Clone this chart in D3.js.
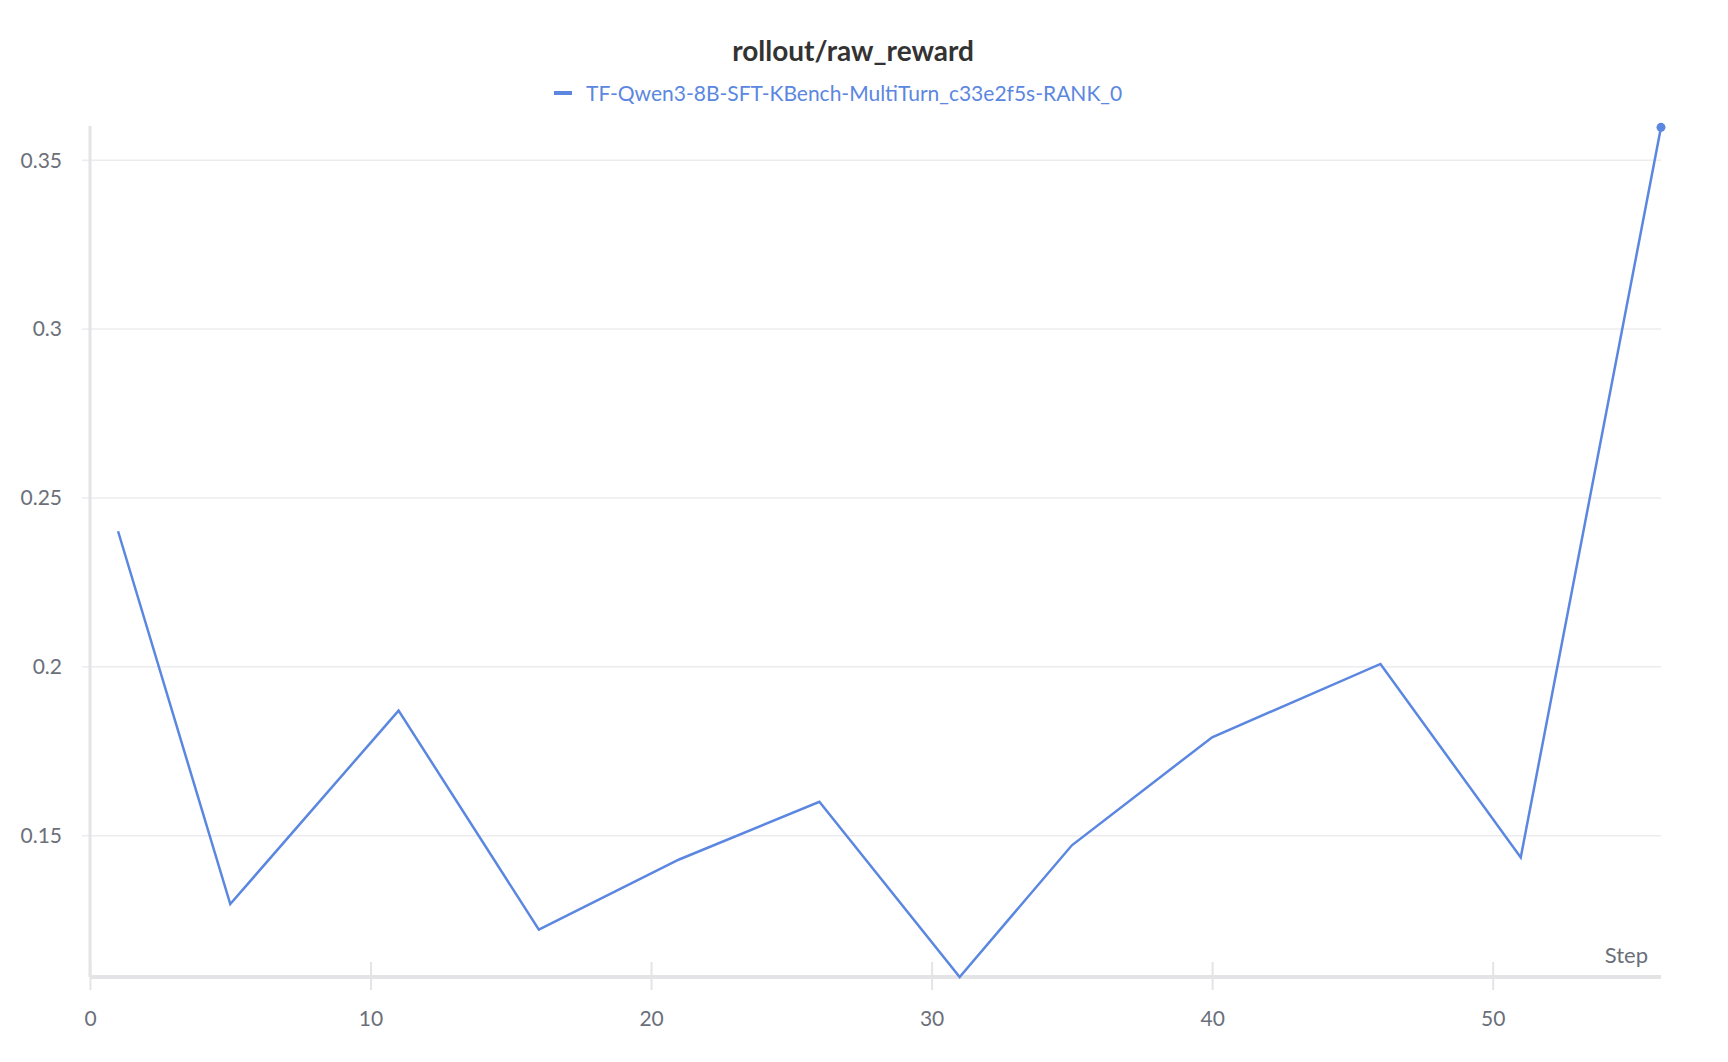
<!DOCTYPE html>
<meta charset="utf-8">
<style>
body { margin: 0; background: #fff; }
text { font-family: "Source Sans Pro", Lato, "Noto Sans", sans-serif; }
.grid line { stroke: #ececef; stroke-width: 1.5px; }
.tick text { fill: #6b6f7a; font-size: 21px; }
</style>
<body>
<script src="https://cdn.jsdelivr.net/npm/d3@7"></script>
<script>
// values
var steps = [1, 5, 11, 16, 21, 26, 31, 35, 40, 46, 51, 56];
var rewards = [0.24, 0.1296, 0.1869, 0.122, 0.1428, 0.1599, 0.108, 0.147, 0.179, 0.2007, 0.1434, 0.3596];
var yTicks = [0.15, 0.2, 0.25, 0.3, 0.35];
var xTicks = [0, 10, 20, 30, 40, 50];
var runName = "TF-Qwen3-8B-SFT-KBench-MultiTurn_c33e2f5s-RANK_0";
var color = "#5b87e0";

var width = 1728, height = 1062,
    mLeft = 90, mRight = 1661, mTop = 126, mBottom = 977;

var x = d3.scaleLinear().domain([0, 56]).range([mLeft, mRight]);
var y = d3.scaleLinear().domain([0.108, 0.36]).range([mBottom, mTop]);

var svg = d3.select("body").append("svg")
    .attr("width", width).attr("height", height);

// title and legend
svg.append("text").attr("x", 853).attr("y", 61)
    .attr("text-anchor", "middle").attr("font-size", 28).attr("font-weight", "bold")
    .attr("fill", "#333").text("rollout/raw_reward");
svg.append("line").attr("x1", 554).attr("x2", 572).attr("y1", 93).attr("y2", 93)
    .attr("stroke", color).attr("stroke-width", 4);
svg.append("text").attr("x", 586).attr("y", 101).attr("font-size", 21)
    .attr("fill", color).text(runName);

// gridlines + y axis
var yAxis = svg.append("g").attr("class", "grid")
    .attr("transform", "translate(" + mLeft + ",0)")
    .call(d3.axisLeft(y).tickValues(yTicks).tickFormat(d3.format("")).tickSize(-(mRight - mLeft)).tickPadding(28));
yAxis.select(".domain").remove();
yAxis.selectAll(".tick text").attr("dy", "0.35em");
yAxis.selectAll(".tick").append("line").attr("x1", -8).attr("x2", 0).attr("stroke", "#e4e4e7");

svg.append("line").attr("x1", mLeft).attr("x2", mLeft).attr("y1", mTop).attr("y2", mBottom)
    .attr("stroke", "#e4e4e7").attr("stroke-width", 3);

// x axis
var xAxis = svg.append("g")
    .attr("transform", "translate(0," + mBottom + ")")
    .call(d3.axisBottom(x).tickValues(xTicks).tickSize(0).tickPadding(34));
xAxis.select(".domain").remove();
xAxis.selectAll(".tick").append("line").attr("y1", -15).attr("y2", 13)
    .attr("stroke", "#e4e4e7").attr("stroke-width", 2);
svg.append("line").attr("x1", mLeft).attr("x2", mRight).attr("y1", mBottom).attr("y2", mBottom)
    .attr("stroke", "#e4e4e7").attr("stroke-width", 4);
svg.append("text").attr("x", 1648).attr("y", 963).attr("text-anchor", "end")
    .attr("font-size", 22).attr("fill", "#6b6f7a").text("Step");

// line
var pts = steps.map((s, i) => [s, rewards[i]]);
svg.append("path").datum(pts)
    .attr("fill", "none").attr("stroke", color).attr("stroke-width", 2.5)
    .attr("d", d3.line().x(d => x(d[0])).y(d => y(d[1])));
svg.append("circle").attr("cx", x(pts[pts.length - 1][0])).attr("cy", y(pts[pts.length - 1][1]))
    .attr("r", 4.5).attr("fill", color);
</script>
</body>
